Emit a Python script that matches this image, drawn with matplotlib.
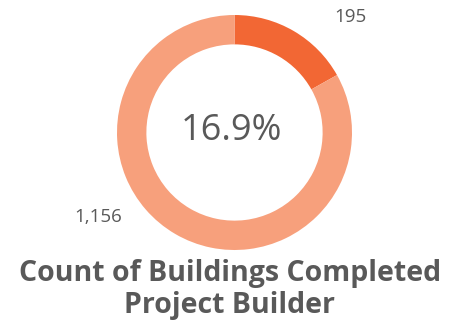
import matplotlib
matplotlib.use("Agg")
import matplotlib.pyplot as plt
from matplotlib import transforms

# Buildings completed by the project builder vs. all buildings completed
builder_count = 195
total_count = 1156
slice_labels = ["195", "1,156"]
slice_colors = ["#F26734", "#F7A07C"]

slice_values = [builder_count, total_count - builder_count]
share = builder_count / total_count

text_color = "#595959"
font = ["Liberation Sans Narrow", "Open Sans", "DejaVu Sans"]

fig = plt.figure(figsize=(4.6, 3.29), dpi=100)
ax = fig.add_axes([0.0, 0.0, 1.0, 1.0])

cx, cy, r = 234.5, 132.5, 117.5
wedges, _ = ax.pie(
    slice_values,
    colors=slice_colors,
    startangle=90,
    counterclock=False,
    radius=r,
    center=(cx, cy),
    wedgeprops=dict(width=r * 0.25, linewidth=0),
    frame=True,
)
ax.set_xlim(0, 460)
ax.set_ylim(329, 0)
ax.set_aspect("equal")
ax.axis("off")
# pie draws in a y-up frame; flip the wedges so the slice runs clockwise from the top
for w in wedges:
    w.set_transform(transforms.Affine2D().scale(1, -1).translate(0, 2 * cy) + ax.transData)

ax.text(350, 17, slice_labels[0], ha="center", va="center", fontsize=13.5,
        color=text_color, family=font)
ax.text(98, 217, slice_labels[1], ha="center", va="center", fontsize=13.5,
        color=text_color, family=font)
ax.text(cx - 3, 131, f"{share * 100:.1f}%", ha="center", va="center", fontsize=26,
        color=text_color, family=font)

title_font = ["Open Sans", "DejaVu Sans"]
ax.text(230, 273, "Count of Buildings Completed", ha="center", va="center",
        fontsize=20.5, fontweight="bold", color=text_color, family=title_font)
ax.text(230, 305, "Project Builder", ha="center", va="center",
        fontsize=20.5, fontweight="bold", color=text_color, family=title_font)

fig.savefig("out.png", dpi=100)
